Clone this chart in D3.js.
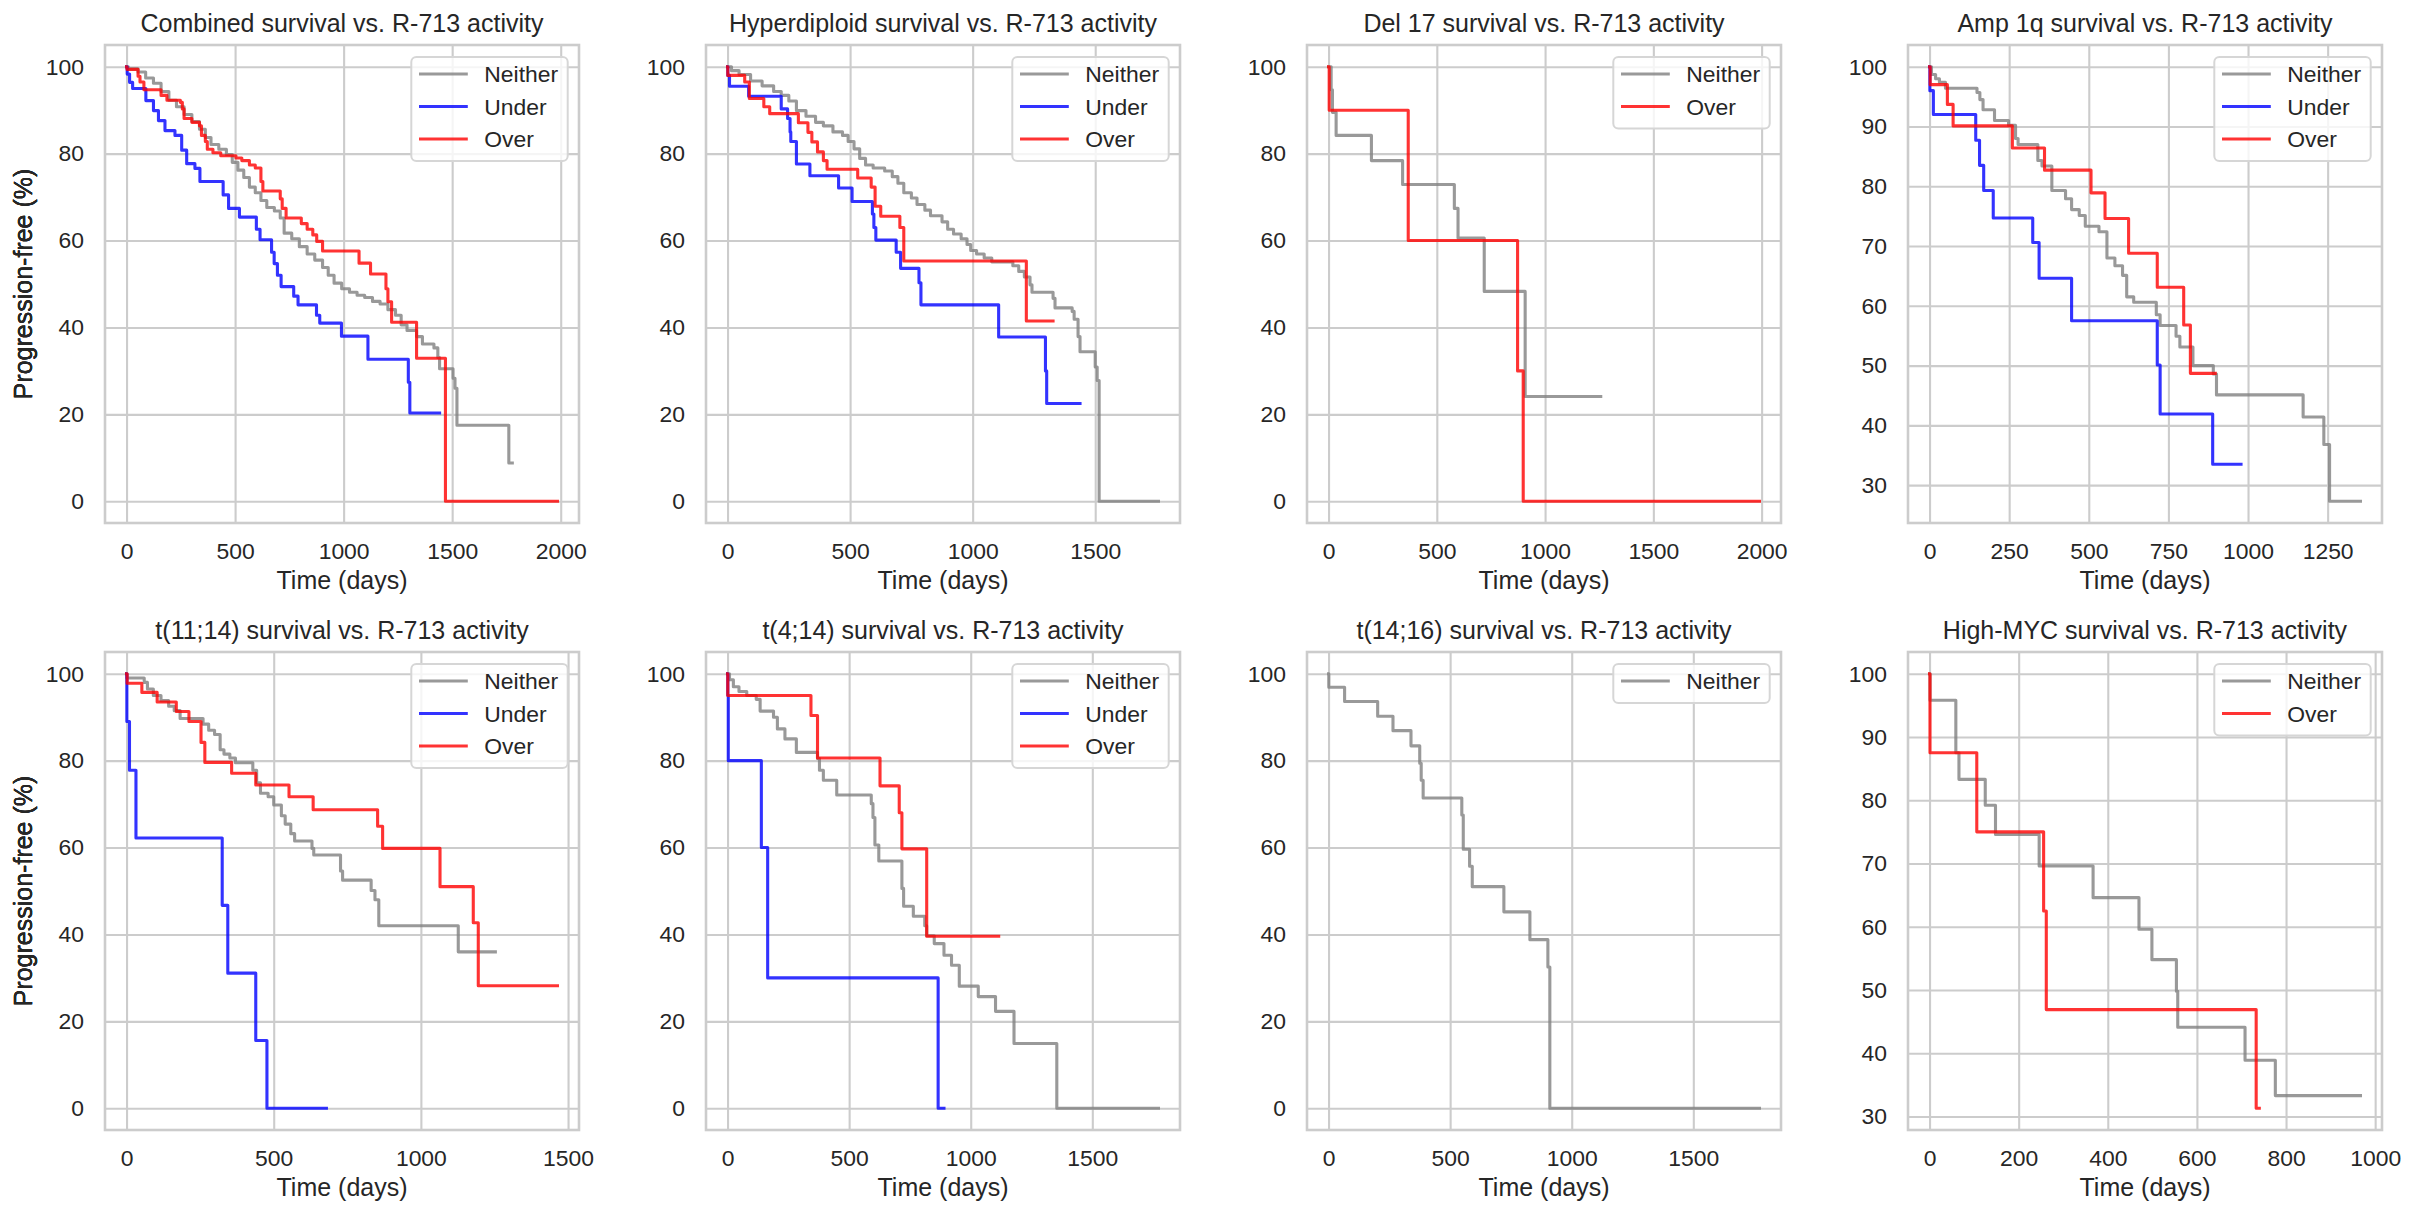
<!DOCTYPE html>
<html>
<head>
<meta charset="utf-8">
<script src="https://cdn.jsdelivr.net/npm/d3@7"></script>
<style>
  body { margin: 0; background: #fff; }
  text { font-family: "Liberation Sans", Arial, sans-serif; fill: #262626; }
</style>
</head>
<body>
<svg id="chart" width="2418" height="1218"></svg>
<script>
// Kaplan-Meier curves: [day, progression-free %] at each drop
var titles = [
  "Combined survival vs. R-713 activity",
  "Hyperdiploid survival vs. R-713 activity",
  "Del 17 survival vs. R-713 activity",
  "Amp 1q survival vs. R-713 activity",
  "t(11;14) survival vs. R-713 activity",
  "t(4;14) survival vs. R-713 activity",
  "t(14;16) survival vs. R-713 activity",
  "High-MYC survival vs. R-713 activity"
];
var groups = ["Neither", "Under", "Over"];

var combinedNeither = [[0,100],[8,99.5],[53,98.8],[88,97.4],[124,96.2],[159,94.3],[195,92.3],[230,90.8],[265,89],[301,87.4],[336,85.6],[363,83.7],[389,82.1],[425,81],[460,79.8],[487,78],[513,76.2],[540,74.5],[566,72.3],[593,71],[619,69.2],[646,67.6],[681,66.8],[708,65.2],[726,61.7],[761,60.4],[796,58.6],[832,56.9],[867,55.5],[903,53.8],[929,52],[956,50.2],[991,48.9],[1027,48.1],[1062,47.4],[1097,46.9],[1133,46],[1168,45.4],[1204,44.1],[1239,42.8],[1265,40.6],[1292,39.3],[1336,37.9],[1363,36.2],[1416,35.3],[1434,33.1],[1442,30.5],[1504,28.3],[1513,26],[1522,17.5],[1761,8.8],[1777,8.8]];
var combinedUnder = [[0,100],[3,98.3],[14,96.4],[28,95],[89,92.2],[124,89.9],[147,87.6],[177,85.3],[223,84.2],[254,80.8],[277,77.7],[315,76.6],[338,73.6],[445,70.5],[470,67.4],[520,65.4],[598,62.6],[615,60.2],[668,57.3],[680,54.7],[695,52],[712,49.4],[770,47.2],[790,45.2],[875,42.8],[890,41],[990,38],[1112,32.7],[1298,27.4],[1305,20.3],[1442,20.3]];
var combinedOver = [[0,100],[2,99.4],[53,97.8],[62,96.5],[80,94.7],[159,93.4],[186,92.3],[248,91.8],[257,90.3],[265,88.1],[301,87.2],[336,86.4],[345,84.2],[363,82.8],[372,81],[398,80.2],[434,79.5],[504,79],[531,78.4],[566,77.4],[593,76.7],[619,73.6],[628,71.4],[708,69.6],[717,67.4],[735,65.2],[805,63.9],[832,62.6],[858,61.3],[876,59.8],[903,57.6],[1071,54.8],[1124,52.3],[1195,48.9],[1204,45.9],[1221,41.2],[1336,32.9],[1469,0],[1985,0]];

var hyperNeither = [[0,100],[16,99.1],[47,98.2],[94,96.7],[141,95.6],[188,94.3],[219,93.4],[250,92.1],[281,89.9],[320,88.6],[359,87.2],[391,86.4],[430,85],[469,84.2],[492,82.8],[516,81.1],[539,78.9],[563,77.4],[594,76.7],[641,76],[672,74.7],[695,73.2],[719,71],[750,69.8],[773,68.3],[805,67],[828,65.7],[875,64.3],[898,62.6],[922,61.5],[953,60.4],[977,59.1],[992,57.7],[1016,56.9],[1047,56],[1078,55.1],[1164,54.2],[1188,52.9],[1211,51.6],[1234,49.8],[1242,48.1],[1328,46.7],[1336,44.5],[1406,43.7],[1414,41.9],[1430,37.9],[1438,34.4],[1500,30.9],[1508,27.8],[1516,0],[1758,0]];
var hyperUnder = [[0,100],[1,98],[8,95.5],[86,93.2],[219,90.3],[245,88.1],[255,85],[258,82.8],[281,77.6],[336,74.9],[453,72.1],[508,69],[591,66.1],[597,63],[605,60.1],[688,57.3],[706,53.6],[781,50.3],[789,45.2],[1106,37.8],[1297,30],[1302,22.5],[1438,22.5]];
var hyperOver = [[0,100],[1,98],[70,96.5],[89,92.7],[148,90.8],[172,89.2],[289,87.1],[328,84.9],[344,82.7],[367,80.4],[391,78.4],[406,76.4],[531,74.4],[586,72.3],[602,67.9],[625,65.6],[703,63],[719,55.3],[1219,41.5],[1328,41.5]];

var del17Neither = [[0,100],[12,94.7],[18,89.5],[35,84.2],[198,78.4],[342,72.9],[581,67.4],[598,60.6],[719,48.3],[908,24.1],[1257,24.1]];
var del17Over = [[0,100],[3,90],[368,60],[873,30],[899,0],[1990,0]];

var amp1qNeither = [[0,100],[6,98.7],[19,98],[31,97.4],[50,96.4],[149,95.7],[158,94.5],[168,92.8],[204,91],[248,90.2],[270,88],[278,87],[340,84.3],[353,83.4],[384,79.3],[427,77.9],[446,76.1],[470,75.1],[489,73.3],[532,72.4],[557,68],[582,66.7],[606,65.1],[619,61.5],[641,60.6],[712,58.5],[724,56.7],[774,54.9],[786,53.1],[827,50],[891,48.6],[901,45.1],[1173,41.4],[1238,36.8],[1256,27.3],[1353,27.3]];
var amp1qUnder = [[0,100],[1,96],[12,92],[145,87.7],[157,83.5],[170,79.3],[200,74.7],[324,70.6],[344,64.6],[446,57.5],[715,50.1],[724,41.9],[889,33.5],[978,33.5]];
var amp1qOver = [[0,100],[2,97],[56,93.7],[74,90.1],[260,86.4],[361,82.7],[507,78.9],[551,74.6],[625,68.8],[715,63.1],[798,56.8],[819,48.7],[897,48.7]];

var t1114Neither = [[0,100],[1,99],[60,98],[71,96.5],[91,95],[117,93.8],[143,92.5],[162,91.5],[182,89.7],[260,88.4],[279,87],[299,86],[318,82.5],[331,81.5],[351,80.6],[370,79.5],[429,77.8],[442,74.9],[455,72.5],[481,71.7],[500,69.8],[526,67.3],[539,65.4],[558,63.2],[571,61.5],[630,59.8],[636,58.3],[727,54.6],[734,52.5],[831,50.1],[844,48],[857,42],[1127,36],[1253,36]];
var t1114Under = [[0,100],[1,89],[10,77.8],[32,62.2],[325,46.7],[344,31.1],[439,15.6],[477,0],[679,0]];
var t1114Over = [[0,100],[2,97.8],[52,95.7],[104,93.5],[169,91.3],[212,89],[253,84.2],[266,79.6],[357,77.1],[439,74.4],[552,71.7],[634,68.7],[853,64.9],[870,59.8],[1065,51],[1178,42.7],[1195,28.2],[1464,28.2]];

var t414Neither = [[0,100],[8,98.6],[24,97],[47,95.9],[79,95],[118,94.1],[134,91.4],[189,90],[205,87.3],[236,85],[283,81.9],[370,80.5],[378,77.8],[394,75.5],[449,72.1],[591,70.1],[598,66.9],[606,60.6],[622,56.9],[717,50.6],[724,46.5],[764,44.2],[811,42],[819,39.7],[850,37.9],[890,35.2],[921,32.9],[953,28.1],[1031,25.7],[1102,22.3],[1178,14.9],[1354,0],[1772,0]];
var t414Under = [[0,100],[1,95],[3,80],[139,60],[165,30],[866,0],[890,0]];
var t414Over = [[0,100],[1,95],[343,90.4],[370,80.6],[627,74.2],[706,68],[717,59.7],[819,39.6],[1115,39.6]];

var t1416Neither = [[0,100],[1,96.9],[66,93.6],[202,90.2],[265,86.9],[339,83.4],[375,79.4],[381,75.5],[389,71.4],[548,67.5],[554,59.6],[580,55.7],[591,51],[721,45.2],[828,38.8],[902,32.5],[910,0],[1772,0]];

var mycNeither = [[0,100],[1,95.8],[59,87.5],[66,83.3],[125,79.2],[148,74.6],[246,69.6],[367,64.6],[470,59.6],[499,54.8],[554,49.8],[557,44.1],[708,38.9],[776,33.3],[967,33.3]];
var mycOver = [[0,100],[1,87.5],[106,75],[256,62.5],[262,46.9],[733,31.3],[740,31.3]];

var xTicks2000 = [0, 500, 1000, 1500, 2000];
var xTicks1500 = [0, 500, 1000, 1500];
var xTicks1250 = [0, 250, 500, 750, 1000, 1250];
var xTicks1000 = [0, 200, 400, 600, 800, 1000];
var yTicksFull = [0, 20, 40, 60, 80, 100];
var yTicksUpper = [30, 40, 50, 60, 70, 80, 90, 100];

var colors = { Neither: "gray", Under: "blue", Over: "red" };

var panels = [
  { series: [combinedNeither, combinedUnder, combinedOver], names: groups, xTicks: xTicks2000, yTicks: yTicksFull },
  { series: [hyperNeither, hyperUnder, hyperOver], names: groups, xTicks: xTicks1500, yTicks: yTicksFull },
  { series: [del17Neither, del17Over], names: ["Neither", "Over"], xTicks: xTicks2000, yTicks: yTicksFull },
  { series: [amp1qNeither, amp1qUnder, amp1qOver], names: groups, xTicks: xTicks1250, yTicks: yTicksUpper },
  { series: [t1114Neither, t1114Under, t1114Over], names: groups, xTicks: xTicks1500, yTicks: yTicksFull },
  { series: [t414Neither, t414Under, t414Over], names: groups, xTicks: xTicks1500, yTicks: yTicksFull },
  { series: [t1416Neither], names: ["Neither"], xTicks: xTicks1500, yTicks: yTicksFull },
  { series: [mycNeither, mycOver], names: ["Neither", "Over"], xTicks: xTicks1000, yTicks: yTicksUpper }
];

var svg = d3.select("#chart");
var colLeft = [105, 706, 1307, 1908];
var rowTop = [45, 652];
var W = 474, H = 478;

panels.forEach(function(p, i) {
  var left = colLeft[i % 4], top = rowTop[Math.floor(i / 4)];
  var all = [].concat.apply([], p.series);
  var tMax = d3.max(all, function(d) { return d[0]; });
  var yMin = d3.min(all, function(d) { return d[1]; });
  var yMax = d3.max(all, function(d) { return d[1]; });
  var yPad = (yMax - yMin) * 0.05;

  var x = d3.scaleLinear().domain([-0.05 * tMax, 1.05 * tMax]).range([0, W]);
  var y = d3.scaleLinear().domain([yMin - yPad, yMax + yPad]).range([H, 0]);

  var g = svg.append("g").attr("transform", "translate(" + left + "," + top + ")");

  // grid + tick labels
  var xAxis = g.append("g")
    .attr("transform", "translate(0," + H + ")")
    .call(d3.axisBottom(x).tickValues(p.xTicks).tickSize(-H).tickPadding(20).tickFormat(d3.format("d")));
  var yAxis = g.append("g")
    .call(d3.axisLeft(y).tickValues(p.yTicks).tickSize(-W).tickPadding(21).tickFormat(d3.format("d")));
  [xAxis, yAxis].forEach(function(a) {
    a.select(".domain").remove();
    a.selectAll(".tick line").attr("stroke", "#cccccc").attr("stroke-width", 2.1);
    a.selectAll(".tick text").attr("font-family", null).attr("font-size", 22.9).attr("fill", "#262626");
    a.attr("font-family", null);
  });

  // curves
  var line = d3.line()
    .x(function(d) { return x(d[0]); })
    .y(function(d) { return y(d[1]); })
    .curve(d3.curveStepAfter);
  p.series.forEach(function(s, k) {
    g.append("path")
      .attr("d", line(s))
      .attr("fill", "none")
      .attr("stroke", colors[p.names[k]])
      .attr("stroke-opacity", 0.8)
      .attr("stroke-width", 3.1)
      .attr("stroke-linejoin", "round")
      .attr("stroke-linecap", "square");
  });

  // frame
  g.append("rect")
    .attr("width", W).attr("height", H)
    .attr("fill", "none").attr("stroke", "#cccccc").attr("stroke-width", 2.6);

  // titles and labels
  g.append("text").attr("x", W / 2).attr("y", -13.5)
    .attr("text-anchor", "middle").attr("font-size", 25).text(titles[i]);
  g.append("text").attr("x", W / 2).attr("y", H + 66)
    .attr("text-anchor", "middle").attr("font-size", 25).text("Time (days)");
  g.append("text")
    .attr("transform", "translate(" + (32 - left) + "," + (H / 2) + ") rotate(-90)")
    .attr("text-anchor", "middle").attr("font-size", 25).text("Progression-free (%)");

  // legend
  var lg = g.append("g");
  var box = lg.append("rect");
  var maxW = 0;
  var texts = p.names.map(function(n, k) {
    var t = lg.append("text").attr("y", 29 + k * 32.5 + 8.2).attr("font-size", 22.9).text(n);
    maxW = Math.max(maxW, t.node().getComputedTextLength());
    return t;
  });
  var boxW = 7.7 + 48.8 + 16.5 + maxW + 9.6;
  var boxR = W - 11.3, boxL = boxR - boxW;
  box.attr("x", boxL).attr("y", 12).attr("width", boxW).attr("height", 39 + 32.5 * (p.names.length - 1))
    .attr("rx", 5).attr("fill", "#ffffff").attr("fill-opacity", 0.8)
    .attr("stroke", "#d6d6d6").attr("stroke-width", 2);
  p.names.forEach(function(n, k) {
    var yy = 29 + k * 32.5;
    lg.append("line").attr("x1", boxL + 7.7).attr("x2", boxL + 7.7 + 48.8)
      .attr("y1", yy).attr("y2", yy)
      .attr("stroke", colors[n]).attr("stroke-opacity", 0.8).attr("stroke-width", 3.1);
    texts[k].attr("x", boxL + 7.7 + 48.8 + 16.5);
  });
});
</script>
</body>
</html>
